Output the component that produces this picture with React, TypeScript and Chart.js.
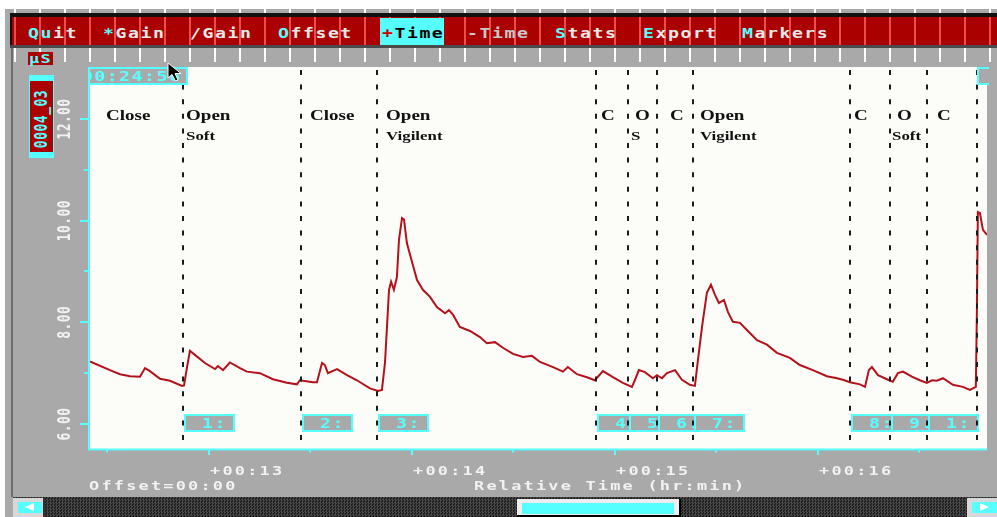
import React, { useEffect, useRef } from 'react';
import { Chart, registerables } from 'chart.js';

Chart.register(...registerables);

// ---------------- data ----------------
// time in minutes of relative time, signal value
const timeMinutes = [
  12.414, 12.512, 12.562, 12.611, 12.66, 12.685, 12.709, 12.759, 12.808, 12.867,
  12.877, 12.892, 12.906, 12.931, 12.98, 13.03, 13.044, 13.069, 13.103, 13.153,
  13.187, 13.251, 13.315, 13.384, 13.433, 13.448, 13.512, 13.532, 13.557, 13.571,
  13.586, 13.631, 13.68, 13.729, 13.793, 13.833, 13.852, 13.867, 13.877, 13.887,
  13.897, 13.911, 13.926, 13.936, 13.951, 13.961, 13.975, 14.0, 14.025, 14.054,
  14.089, 14.123, 14.163, 14.182, 14.202, 14.236, 14.286, 14.335, 14.369, 14.409,
  14.448, 14.498, 14.547, 14.591, 14.631, 14.695, 14.744, 14.768, 14.813, 14.862,
  14.901, 14.941, 14.99, 15.039, 15.084, 15.099, 15.118, 15.148, 15.187, 15.207,
  15.232, 15.256, 15.296, 15.33, 15.369, 15.394, 15.409, 15.429, 15.453, 15.473,
  15.493, 15.512, 15.537, 15.557, 15.581, 15.616, 15.65, 15.7, 15.749, 15.798,
  15.862, 15.911, 15.975, 16.044, 16.094, 16.123, 16.158, 16.207, 16.232, 16.251,
  16.266, 16.296, 16.34, 16.369, 16.394, 16.419, 16.463, 16.502, 16.537, 16.562,
  16.586, 16.616, 16.665, 16.714, 16.749, 16.778, 16.783, 16.788, 16.798, 16.813,
  16.833,
];
const signalValues = [
  7.23, 7.06, 6.98, 6.94, 6.93, 7.1, 7.04, 6.89, 6.85, 6.75,
  6.76, 7.12, 7.44, 7.36, 7.2, 7.08, 7.14, 7.06, 7.21, 7.1,
  7.03, 7.0, 6.88, 6.81, 6.78, 6.86, 6.82, 6.82, 7.2, 7.16,
  7.0, 7.08, 6.96, 6.86, 6.7, 6.65, 6.67, 7.2, 7.91, 8.64,
  8.8, 8.64, 8.89, 9.62, 10.05, 10.02, 9.56, 9.19, 8.83, 8.64,
  8.5, 8.3, 8.18, 8.24, 8.15, 7.91, 7.83, 7.71, 7.59, 7.61,
  7.5, 7.38, 7.32, 7.34, 7.22, 7.12, 7.03, 7.12, 6.98, 6.92,
  6.86, 7.04, 6.92, 6.81, 6.73, 6.87, 7.06, 7.02, 6.9, 6.96,
  6.9, 7.0, 7.06, 6.87, 6.77, 6.75, 7.26, 7.91, 8.58, 8.74,
  8.54, 8.38, 8.44, 8.2, 8.01, 7.99, 7.85, 7.65, 7.56, 7.4,
  7.3, 7.16, 7.06, 6.94, 6.9, 6.87, 6.82, 6.78, 6.73, 7.06,
  7.12, 6.96, 6.88, 6.83, 7.0, 7.03, 6.93, 6.86, 6.81, 6.86,
  6.85, 6.9, 6.77, 6.73, 6.67, 6.73, 8.15, 10.17, 10.15, 9.82,
  9.72,
];

// event markers (dashed lines)
const markerTimes = [12.872, 13.453, 13.828, 14.906, 15.064, 15.207, 15.384, 16.158, 16.355, 16.537, 16.783];
const markerBoxLabels = ['1:', '2:', '3:', '4:', '5:', '6:', '7:', '8:', '9:', '1:'];

// region annotations
const regionLine1Text = ['Close', 'Open', 'Close', 'Open', 'C', 'O', 'C', 'Open', 'C', 'O', 'C'];
const regionLine1Time = [12.493, 12.887, 13.498, 13.872, 14.931, 15.099, 15.271, 15.419, 16.177, 16.389, 16.586];
const regionLine2Text = ['Soft', 'Vigilent', 'S', 'Vigilent', 'Soft'];
const regionLine2Time = [12.887, 13.872, 15.079, 15.419, 16.365];

// axes
const xMin = 12.404;
const xMax = 16.833;
const yMin = 5.508;
const yMax = 13.023;
const yTickValues = [6, 8, 10, 12];
const yTickLabels = ['6.00', '8.00', '10.00', '12.00'];
const yMinorTicks = [7, 9, 11];
const xTickValues = [13, 14, 15, 16];
const xTickLabels = ['+00:13', '+00:14', '+00:15', '+00:16'];
const xMinorTicks = [12.5, 13.5, 14.5, 15.5, 16.5];
const xAxisTitle = 'Relative Time (hr:min)';
const offsetText = 'Offset=00:00';

// ---------------- styles ----------------
const GRAY = '#A9A9A9';
const CYAN = '#55FFFF';
const RED = '#AA0000';
const LIGHT = '#F2F2F2';
const PLOT_BG = '#FCFCF8';
const MONO = '"DejaVu Sans Mono", monospace';
const SERIF = '"Liberation Serif", serif';
const DOS_SX = 1.3;

const decoPlugin = {
  id: 'deco',
  beforeDatasetsDraw(chart: any) {
    const { ctx, chartArea: a, scales } = chart;
    const xs = scales.x;
    ctx.save();
    ctx.fillStyle = PLOT_BG;
    ctx.fillRect(a.left, a.top, a.right - a.left, a.bottom - a.top);
    // marker number boxes
    ctx.font = `bold 14px ${MONO}`;
    (ctx as any).letterSpacing = '1.1px';
    ctx.textBaseline = 'middle';
    ctx.textAlign = 'left';
    markerBoxLabels.forEach((lab, i) => {
      const left = Math.round(xs.getPixelForValue(markerTimes[i])) + 1;
      const top = a.bottom - 35;
      ctx.fillStyle = GRAY;
      ctx.fillRect(left, top, 51, 18);
      ctx.strokeStyle = CYAN;
      ctx.lineWidth = 2;
      ctx.strokeRect(left + 1, top + 1, 49, 16);
      ctx.fillStyle = CYAN;
      ctx.save();
      ctx.translate(left + 18, top + 10);
      ctx.scale(DOS_SX, 1);
      ctx.fillText(lab, 0, 0);
      ctx.restore();
    });
    ctx.restore();
  },
  afterDatasetsDraw(chart: any) {
    const { ctx, chartArea: a, scales } = chart;
    const xs = scales.x;
    const ys = scales.y;
    ctx.save();
    // dashed marker lines
    ctx.strokeStyle = '#1A1A1A';
    ctx.lineWidth = 2;
    ctx.setLineDash([5, 9.6]);
    markerTimes.forEach((t) => {
      const px = Math.round(xs.getPixelForValue(t));
      ctx.beginPath();
      ctx.moveTo(px, a.top + 3);
      ctx.lineTo(px, a.bottom - 8);
      ctx.stroke();
    });
    ctx.setLineDash([]);

    const drawScaled = (text: string, x: number, y: number, sx: number) => {
      ctx.save();
      ctx.translate(x, y);
      ctx.scale(sx, 1);
      ctx.fillText(text, 0, 0);
      ctx.restore();
    };

    // region labels
    ctx.fillStyle = '#111111';
    ctx.textBaseline = 'alphabetic';
    ctx.textAlign = 'left';
    ctx.font = `bold 15px ${SERIF}`;
    regionLine1Text.forEach((t, i) => drawScaled(t, Math.round(xs.getPixelForValue(regionLine1Time[i])), a.top + 53, 1.27));
    ctx.font = `bold 13.5px ${SERIF}`;
    regionLine2Text.forEach((t, i) => drawScaled(t, Math.round(xs.getPixelForValue(regionLine2Time[i])), a.top + 73, 1.25));

    // axis borders
    ctx.fillStyle = CYAN;
    ctx.fillRect(a.left, a.top, 2, a.bottom - a.top + 1);
    ctx.fillRect(a.left, a.bottom - 0.5, a.right - a.left, 2);
    // y ticks
    yTickValues.forEach((v) => {
      const py = Math.round(ys.getPixelForValue(v));
      ctx.fillRect(a.left - 8, py - 1, 8, 2);
    });
    yMinorTicks.forEach((v) => {
      const py = Math.round(ys.getPixelForValue(v));
      ctx.fillRect(a.left - 4, py - 1, 4, 2);
    });
    // x ticks
    xTickValues.forEach((v) => {
      const px = Math.round(xs.getPixelForValue(v));
      ctx.fillRect(px - 1, a.bottom, 2, 6);
    });
    xMinorTicks.forEach((v) => {
      const px = Math.round(xs.getPixelForValue(v));
      ctx.fillRect(px - 1, a.bottom, 2, 3.5);
    });

    // y labels (rotated)
    ctx.fillStyle = LIGHT;
    ctx.font = `bold 13px ${MONO}`;
    (ctx as any).letterSpacing = '0.4px';
    ctx.textAlign = 'center';
    ctx.textBaseline = 'middle';
    yTickValues.forEach((v, i) => {
      const py = ys.getPixelForValue(v);
      ctx.save();
      ctx.translate(a.left - 24, py);
      ctx.rotate(-Math.PI / 2);
      ctx.scale(1, 1.3);
      ctx.fillText(yTickLabels[i], 0, 1);
      ctx.restore();
    });

    // x labels
    ctx.font = `bold 13px ${MONO}`;
    (ctx as any).letterSpacing = '1.7px';
    ctx.textAlign = 'left';
    ctx.textBaseline = 'alphabetic';
    xTickValues.forEach((v, i) => {
      const px = Math.round(xs.getPixelForValue(v));
      drawScaled(xTickLabels[i], px + 1, a.bottom + 26, DOS_SX);
    });
    drawScaled(offsetText, a.left + 1, a.bottom + 41, DOS_SX);
    drawScaled(xAxisTitle, a.left + 386, a.bottom + 41, DOS_SX);
    ctx.restore();
  },
};

const stripes = (color: string) =>
  `repeating-linear-gradient(90deg, transparent 0px, transparent 14px, ${color} 14px, ${color} 16px, transparent 16px, transparent 25px)`;

const menuItems = [
  { label: 'Quit', x: 28, hot: 2 },
  { label: '*Gain', x: 103, hot: 1 },
  { label: '/Gain', x: 190, hot: 0 },
  { label: 'Offset', x: 278, hot: 1 },
  { label: '-Time', x: 467, hot: 0 },
  { label: 'Stats', x: 555, hot: 1 },
  { label: 'Export', x: 643, hot: 1 },
  { label: 'Markers', x: 742, hot: 1 },
];

const abs = (s: React.CSSProperties): React.CSSProperties => ({ position: 'absolute', ...s });

export default function App() {
  const ref = useRef<HTMLCanvasElement>(null);
  useEffect(() => {
    const canvas = ref.current!;
    const chart = new Chart(canvas, {
      type: 'line',
      data: {
        datasets: [
          {
            data: timeMinutes.map((t, i) => ({ x: t, y: signalValues[i] })),
            borderColor: '#B3121A',
            borderWidth: 2,
            pointRadius: 0,
            tension: 0,
            fill: false,
          },
        ],
      },
      options: {
        animation: false,
        responsive: false,
        events: [],
        layout: { padding: { left: 88, top: 67, right: 10, bottom: 68 } },
        plugins: { legend: { display: false }, tooltip: { enabled: false } },
        scales: {
          x: { type: 'linear', min: xMin, max: xMax, display: false },
          y: { type: 'linear', min: yMin, max: yMax, display: false },
        },
      },
      plugins: [decoPlugin],
    } as any);
    return () => chart.destroy();
  }, []);

  const menuFont: React.CSSProperties = {
    font: `bold 14px ${MONO}`,
    letterSpacing: '1.15px',
    lineHeight: '16px',
    whiteSpace: 'pre',
    transform: `scaleX(${DOS_SX})`,
    transformOrigin: '0 0',
  };

  return (
    <div style={abs({ left: 0, top: 0, width: 997, height: 517, background: '#fff', overflow: 'hidden' })}>
      <div style={abs({ left: 5, top: 9, width: 992, height: 508, background: GRAY })} />
      <div style={abs({ left: 11, top: 48, width: 2, height: 449, background: '#6E6E6E' })} />
      {/* top ruler */}
      <div style={abs({ left: 0, top: 9, width: 997, height: 6, background: stripes('#FFFFFF') })} />
      {/* menu bar */}
      <div style={abs({ left: 10, top: 13, width: 987, height: 4, background: '#111' })} />
      <div style={abs({ left: 10, top: 13, width: 2, height: 35, background: '#111' })} />
      <div style={abs({ left: 12, top: 17, width: 985, height: 28, background: RED })} />
      <div style={abs({ left: 0, top: 17, width: 997, height: 28, background: stripes('rgba(255,96,96,0.8)') })} />
      <div style={abs({ left: 10, top: 45, width: 987, height: 3, background: '#4A4A4A' })} />
      <div style={abs({ left: 380, top: 18, width: 64, height: 27, background: CYAN })} />
      {menuItems.map((m) => (
        <div key={m.label} style={abs({ left: m.x, top: 25, ...menuFont })}>
          {m.label.split('').map((ch, i) => (
            <span key={i} style={{ color: i < m.hot ? CYAN : m.label === '-Time' ? '#C8C8C8' : '#E8E8E8' }}>
              {ch}
            </span>
          ))}
        </div>
      ))}
      <div style={abs({ left: 382, top: 25, ...menuFont })}>
        <span style={{ color: '#CC0000' }}>+</span>
        <span style={{ color: '#000' }}>Time</span>
      </div>
      {/* lower ruler */}
      <div style={abs({ left: 0, top: 48, width: 997, height: 14, background: stripes('#FFFFFF') })} />
      {/* µS box */}
      <div style={abs({ left: 28, top: 52, width: 25, height: 13, background: RED })} />
      <div style={abs({ left: 29, top: 51, font: `bold 13px ${MONO}`, color: CYAN, letterSpacing: '1px', lineHeight: '15px', transform: 'scaleX(1.3)', transformOrigin: '0 0' })}>µS</div>
      {/* channel name box */}
      <div style={abs({ left: 29, top: 75, width: 25, height: 83, background: CYAN })} />
      <div style={abs({ left: 30, top: 81, width: 23, height: 71, background: RED })} />
      <div
        style={abs({
          left: 42,
          top: 119,
          transform: 'translate(-50%, -50%) rotate(-90deg) scaleY(1.3)',
          color: CYAN,
          font: `bold 13px ${MONO}`,
          letterSpacing: '0.5px',
          whiteSpace: 'nowrap',
          lineHeight: '14px',
        })}
      >
        0004_03
      </div>
      {/* scrollbar */}
      <div style={abs({ left: 13, top: 497, width: 984, height: 20, background: 'repeating-conic-gradient(#474747 0 25%, #1E1E1E 0 50%) 0 0 / 3px 3px' })} />
      <div style={abs({ left: 13, top: 498, width: 32, height: 19, background: '#D8D8D8', borderRight: '2px solid #333', boxSizing: 'border-box' })} />
      <div style={abs({ left: 18, top: 502, width: 24, height: 11, background: CYAN })} />
      <div style={abs({ left: 25, top: 503, width: 0, height: 0, borderTop: '4.5px solid transparent', borderBottom: '4.5px solid transparent', borderRight: '9px solid #fff' })} />
      <div style={abs({ left: 517, top: 499, width: 164, height: 18, background: '#EEE', borderRight: '2px solid #000', borderBottom: '2px solid #000', boxSizing: 'border-box' })} />
      <div style={abs({ left: 522, top: 503, width: 152, height: 11, background: CYAN })} />
      <div style={abs({ left: 967, top: 498, width: 30, height: 19, background: '#D8D8D8' })} />
      <div style={abs({ left: 972, top: 502, width: 25, height: 11, background: CYAN })} />
      <div style={abs({ left: 980, top: 503, width: 0, height: 0, borderTop: '4.5px solid transparent', borderBottom: '4.5px solid transparent', borderLeft: '9px solid #fff' })} />

      <canvas ref={ref} width={997} height={517} style={abs({ left: 0, top: 0, width: 997, height: 517, zIndex: 1 })} />

      {/* timestamp box */}
      <div
        style={abs({
          left: 88,
          top: 67,
          width: 100,
          height: 18,
          border: `2px solid ${CYAN}`,
          boxSizing: 'border-box',
          background: GRAY,
          overflow: 'hidden',
          zIndex: 2,
        })}
      >
        <div style={abs({ left: -8, top: 0, color: CYAN, font: `bold 14px ${MONO}`, letterSpacing: '1.15px', lineHeight: '15px', whiteSpace: 'pre', transform: `scaleX(${DOS_SX})`, transformOrigin: '0 0' })}>00:24:56</div>
      </div>
      <div
        style={abs({
          left: 977,
          top: 67,
          width: 12,
          height: 18,
          borderTop: `2px solid ${CYAN}`,
          borderLeft: `2px solid ${CYAN}`,
          borderBottom: `2px solid ${CYAN}`,
          boxSizing: 'border-box',
          background: GRAY,
          zIndex: 2,
        })}
      />
      <svg width={20} height={22} style={abs({ left: 167, top: 62, zIndex: 3 })}>
        <polygon points="1,1 1,16 5,12.5 8.5,19 11,18 8,11.5 14,11.5" fill="#000" stroke="#fff" strokeWidth={1} />
      </svg>
    </div>
  );
}
